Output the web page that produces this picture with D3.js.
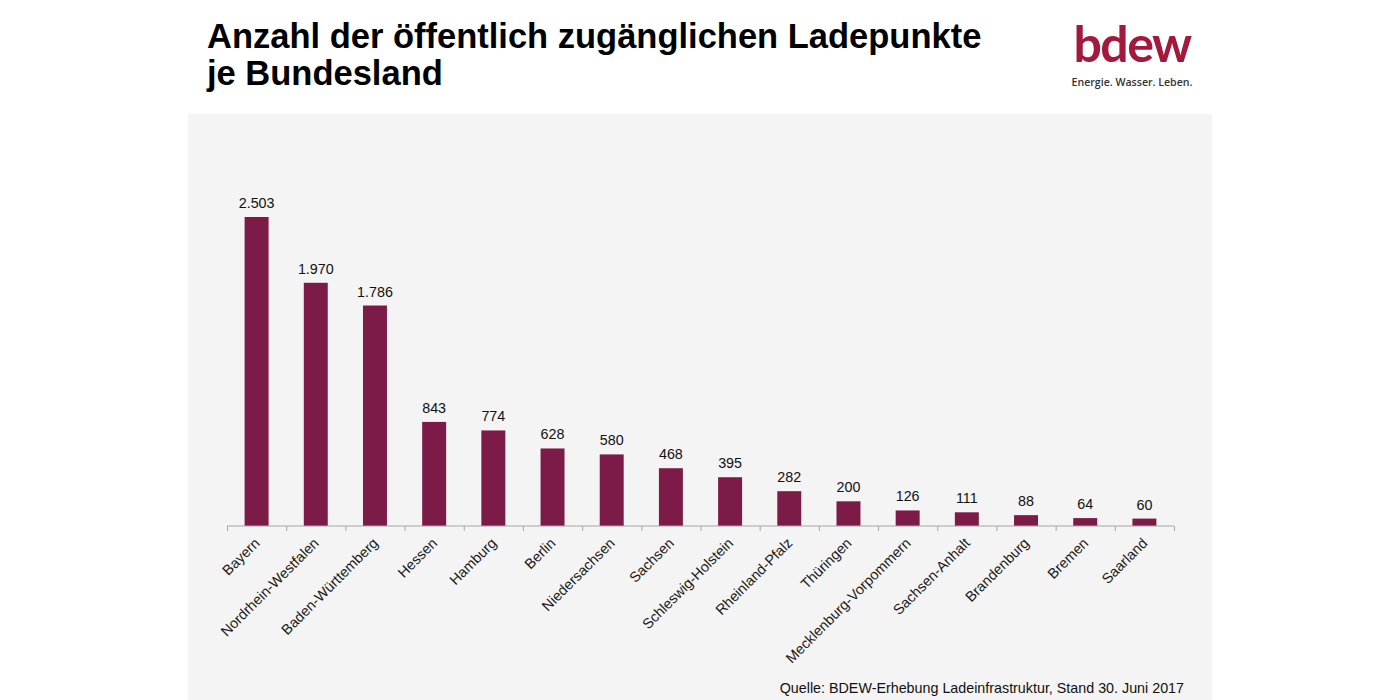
<!DOCTYPE html>
<html><head><meta charset="utf-8">
<script src="https://cdn.jsdelivr.net/npm/d3@7"></script>
<style>body{margin:0;background:#fff;}svg{display:block;}</style>
</head><body>
<script>
const categories = ["Bayern","Nordrhein-Westfalen","Baden-Württemberg","Hessen","Hamburg","Berlin","Niedersachsen","Sachsen","Schleswig-Holstein","Rheinland-Pfalz","Thüringen","Mecklenburg-Vorpommern","Sachsen-Anhalt","Brandenburg","Bremen","Saarland"];
const values = [2503,1970,1786,843,774,628,580,468,395,282,200,126,111,88,64,60];
const valueLabels = ["2.503","1.970","1.786","843","774","628","580","468","395","282","200","126","111","88","64","60"];
const titleLines = ["Anzahl der öffentlich zugänglichen Ladepunkte","je Bundesland"];
const source = "Quelle: BDEW-Erhebung Ladeinfrastruktur, Stand 30. Juni 2017";

const W=1400,H=700;
const svg=d3.select("body").append("svg").attr("width",W).attr("height",H);
svg.append("rect").attr("x",188).attr("y",114).attr("width",1024).attr("height",586).attr("fill","#f4f4f4");

const x=d3.scaleBand().domain(categories).range([227,1174]).paddingInner(0.595).paddingOuter(0.2975);
const y=d3.scaleLinear().domain([0,2503]).range([526,217]);

svg.append("g").selectAll("rect").data(values).join("rect")
  .attr("x",(d,i)=>x(categories[i])).attr("width",x.bandwidth())
  .attr("y",d=>y(d)).attr("height",d=>y(0)-y(d)).attr("fill","#7d1b48");

svg.append("g").selectAll("text").data(values).join("text")
  .attr("x",(d,i)=>x(categories[i])+x.bandwidth()/2).attr("y",d=>y(d)-9)
  .attr("text-anchor","middle").attr("font-family","Liberation Sans, Arial, sans-serif")
  .attr("font-size",14.3).attr("fill","#111").text((d,i)=>valueLabels[i]);

// axis
const xa=d3.scaleLinear().domain([0,categories.length]).range([227,1174]);
const ax=svg.append("g").attr("transform","translate(0,526)")
  .call(d3.axisBottom(xa).tickValues(d3.range(0,categories.length+1)).tickSize(5).tickFormat(""));
ax.selectAll("path,line").attr("stroke","#a6a6a6");
ax.select(".domain").attr("d","M227,0H1174");

svg.append("g").selectAll("text").data(categories).join("text")
  .attr("transform",(d)=>`translate(${x(d)+x.bandwidth()/2+4},${544}) rotate(-45)`)
  .attr("text-anchor","end").attr("font-family","Liberation Sans, Arial, sans-serif")
  .attr("font-size",14.4).attr("fill","#1a1a1a").text(d=>d);

svg.append("g").selectAll("text").data(titleLines).join("text")
  .attr("x",207).attr("y",(d,i)=>48+i*37)
  .attr("font-family","Liberation Sans, Arial, sans-serif").attr("font-weight","bold")
  .attr("font-size",34.5).attr("fill","#000").text(d=>d);

svg.append("text").attr("x",1184).attr("y",693).attr("text-anchor","end")
  .attr("font-family","Liberation Sans, Arial, sans-serif").attr("font-size",14.3).attr("fill","#111").text(source);

// logo
svg.append("text").attr("x",1132).attr("y",62).attr("text-anchor","middle")
  .attr("font-family","Lato, Open Sans, sans-serif").attr("font-size",50).attr("font-weight","bold")
  .attr("fill","#a3193b").attr("letter-spacing","-1.5").text("bdew");
svg.append("text").attr("x",1132).attr("y",86).attr("text-anchor","middle")
  .attr("font-family","Open Sans, sans-serif").attr("font-size",10.6).attr("font-weight","600")
  .attr("fill","#333").text("Energie. Wasser. Leben.");
</script>
</body></html>
